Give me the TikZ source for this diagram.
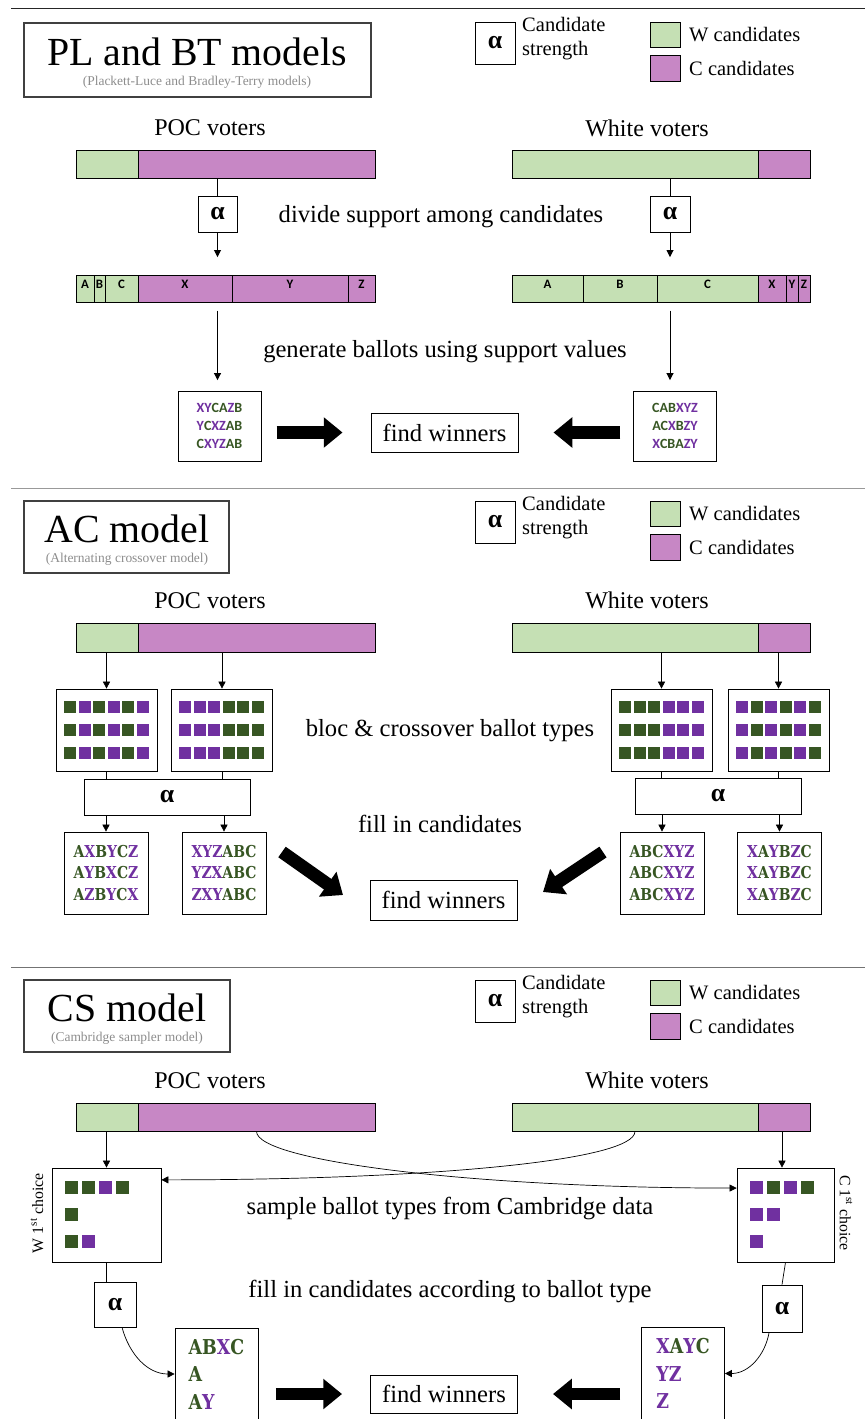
\documentclass[tikz,border=0pt]{standalone}
\usepackage{fontspec}
\setmainfont{Liberation Serif}
\newfontfamily\barfont{Carlito}
\newfontfamily\slabfont[FakeStretch=0.85]{DejaVu Serif}
\usepackage{xcolor}
\usetikzlibrary{arrows.meta,positioning,fit,calc}

\definecolor{wgreen}{HTML}{C5E0B4}
\definecolor{cpurple}{HTML}{C787C5}
\definecolor{sqg}{HTML}{375623}
\definecolor{sqp}{HTML}{7030A0}

\newcommand{\wc}[1]{\textcolor{sqg}{#1}}
\newcommand{\pc}[1]{\textcolor{sqp}{#1}}
% x0, y centre, pitch, size, colours
\newcommand{\sqrow}[5]{\foreach \c [count=\i from 0] in {#5} \fill[fill=\c] ({#1+\i*#3},{#2-#4/2}) rectangle ++(#4,#4);}

\begin{document}
\begin{tikzpicture}[
    x=0.03cm, y=-0.03cm,
    lbl/.style={font=\fontsize{20.5}{24}\selectfont},
    mid/.style={font=\fontsize{21}{25}\selectfont},
    legtext/.style={font=\fontsize{17.5}{20.5}\selectfont, align=left, anchor=west, inner sep=0pt},
    titlebox/.style={draw=black!75, line width=0.9pt},
    ttl/.style={font=\fontsize{34}{38}\selectfont, inner sep=0pt},
    subttl/.style={font=\fontsize{11.5}{13}\selectfont, text=black!45, inner sep=0pt},
    box/.style={draw, line width=0.6pt, fill=white, inner sep=0pt},
    seg/.style={draw, line width=0.6pt, inner sep=0pt, font=\barfont\bfseries\fontsize{11}{13}\selectfont},
    alph/.style={box, font=\bfseries\fontsize{22}{24}\selectfont},
    plb/.style={box, align=center, font=\barfont\bfseries\fontsize{12}{15.7}\selectfont, minimum width=2.49cm, minimum height=2.1cm},
    acb/.style={box, align=center, font=\slabfont\bfseries\fontsize{14}{18.7}\selectfont, minimum width=2.52cm, minimum height=2.46cm},
    csb/.style={box, align=left, font=\slabfont\bfseries\fontsize{17.5}{23.5}\selectfont, minimum width=2.49cm, minimum height=2.76cm},
    sqbox/.style={box, minimum width=3.03cm, minimum height=2.46cm},
    win/.style={box, mid, minimum width=4.41cm, minimum height=1.17cm},
    arr/.style={-{Triangle[length=6pt,width=6pt]}, line width=0.6pt},
    fat/.style={line width=11pt, -{Triangle[length=16pt,width=25pt]}}
]
\useasboundingbox (0,0) rectangle (865,1419);

% section rules
\draw[black!85, line width=0.8pt] (11,8) -- (865,8);
\draw[black!40, line width=0.8pt] (11,488) -- (865,488);
\draw[black!55, line width=0.8pt] (11,967) -- (865,967);

% legends
\foreach \oy/\k in {0/1,479/2,958/3}{
  \begin{scope}[shift={(0,\oy)}]
    \node[alph, minimum width=1.2cm, minimum height=1.26cm] (leg\k) at (495,43) {α};
    \node[legtext] (legt\k) at (522,39) {Candidate\\strength};
    \node[box, fill=wgreen, minimum width=0.9cm, minimum height=0.75cm] (legw\k) at (665,34.5) {};
    \node[box, fill=cpurple, minimum width=0.9cm, minimum height=0.78cm] (legc\k) at (665,68) {};
    \node[legtext] (legwt\k) at (689,35) {W candidates};
    \node[legtext] (legct\k) at (689,68) {C candidates};
  \end{scope}
}

%% PL and BT
\node[titlebox, minimum width=10.41cm, minimum height=2.22cm] (t1) at (197.5,60) {};
\node[ttl] (t1a) at (197,52) {PL and BT models};
\node[subttl] (t1b) at (197,82) {(Plackett-Luce and Bradley-Terry models)};

\node[lbl] (poc1) at (210,128) {POC voters};
\node[lbl] (wht1) at (647,128) {White voters};
\node[seg, fill=wgreen, fit={(76,150)(138,178)}] (pw1) {};
\node[seg, fill=cpurple, fit={(138,150)(375,178)}] (pc1) {};
\node[seg, fill=wgreen, fit={(512,150)(758,178)}] (ww1) {};
\node[seg, fill=cpurple, fit={(758,150)(810,178)}] (wc1) {};

\node[alph, minimum width=1.17cm, minimum height=1.08cm] (al1) at (217.5,214) {α};
\node[alph, minimum width=1.2cm, minimum height=1.08cm] (al2) at (670,214) {α};
\node[mid] (div) at (441,217) {divide support among candidates};

\node[seg, fill=wgreen, fit={(76,275)(94,302)}] (la) {A};
\node[seg, fill=wgreen, fit={(94,275)(105,302)}] (lb) {B};
\node[seg, fill=wgreen, fit={(105,275)(138,302)}] (lc) {C};
\node[seg, fill=cpurple, fit={(138,275)(232,302)}] (lx) {X};
\node[seg, fill=cpurple, fit={(232,275)(348,302)}] (ly) {Y};
\node[seg, fill=cpurple, fit={(348,275)(375,302)}] (lz) {Z};
\node[seg, fill=wgreen, fit={(512,275)(583,302)}] (ra) {A};
\node[seg, fill=wgreen, fit={(583,275)(657,302)}] (rb) {B};
\node[seg, fill=wgreen, fit={(657,275)(758,302)}] (rc) {C};
\node[seg, fill=cpurple, fit={(758,275)(786,302)}] (rx) {X};
\node[seg, fill=cpurple, fit={(786,275)(798,302)}] (ry) {Y};
\node[seg, fill=cpurple, fit={(798,275)(810,302)}] (rz) {Z};

\node[mid] (gen) at (445,352) {generate ballots using support values};
\node[plb] (bl1) at (219.5,426) {\pc{XY}\wc{CA}\pc{Z}\wc{B}\\\pc{Y}\wc{C}\pc{XZ}\wc{AB}\\\wc{C}\pc{XYZ}\wc{AB}};
\node[plb] (bl2) at (675,426) {\wc{CAB}\pc{XYZ}\\\wc{AC}\pc{X}\wc{B}\pc{ZY}\\\pc{X}\wc{CBA}\pc{ZY}};
\node[win] (fw1) at (444.5,432.5) {find winners};

\draw[line width=0.6pt] (al1 |- pc1.south) -- (al1.north);
\draw[line width=0.6pt] (al2 |- ww1.south) -- (al2.north);
\draw[arr, shorten >=15pt] (al1.south) -- (al1 |- lx.north);
\draw[arr, shorten >=15pt] (al2.south) -- (al2 |- rc.north);
\draw[arr, shorten <=7pt, shorten >=9pt] (al1 |- lx.south) -- (al1 |- bl1.north);
\draw[arr, shorten <=7pt, shorten >=9pt] (al2 |- rc.south) -- (al2 |- bl2.north);
\draw[fat, shorten <=13pt, shorten >=24pt] (bl1.east |- fw1.west) -- (fw1.west);
\draw[fat, shorten <=11pt, shorten >=30pt] (bl2.west |- fw1.east) -- (fw1.east);

%% AC model
\node[titlebox, minimum width=6.15cm, minimum height=2.16cm] (t2) at (126.5,537) {};
\node[ttl] (t2a) at (127,529) {AC model};
\node[subttl] (t2b) at (127,559) {(Alternating crossover model)};

\node[lbl] (poc2) at (210,601) {POC voters};
\node[lbl] (wht2) at (647,600) {White voters};
\node[seg, fill=wgreen, fit={(76,623)(138,652)}] (pw2) {};
\node[seg, fill=cpurple, fit={(138,623)(375,652)}] (pc2) {};
\node[seg, fill=wgreen, fit={(512,623)(758,652)}] (ww2) {};
\node[seg, fill=cpurple, fit={(758,623)(810,652)}] (wc2) {};

\node[sqbox] (sq1) at (106.5,730) {};
\node[sqbox] (sq2) at (222,730) {};
\node[sqbox] (sq3) at (661.5,730) {};
\node[sqbox] (sq4) at (778.5,730) {};
\foreach \yy in {707,730,753}{
  \sqrow{64}{\yy}{14.5}{12}{sqg,sqp,sqg,sqp,sqg,sqp}
  \sqrow{179}{\yy}{14.5}{12}{sqp,sqp,sqp,sqg,sqg,sqg}
  \sqrow{619}{\yy}{14.5}{12}{sqg,sqg,sqg,sqp,sqp,sqp}
  \sqrow{736}{\yy}{14.5}{12}{sqp,sqg,sqp,sqg,sqp,sqg}
}
\node[mid] (bloc) at (450,731) {bloc \& crossover ballot types};

\node[alph, minimum width=4.98cm, minimum height=1.08cm] (al5) at (167,797) {α};
\node[alph, minimum width=4.98cm, minimum height=1.08cm] (al6) at (718,796) {α};
\node[mid] (fill2) at (440,824) {fill in candidates};

\node[acb] (ac1) at (106,873) {\wc{A}\pc{X}\wc{B}\pc{Y}\wc{C}\pc{Z}\\\wc{A}\pc{Y}\wc{B}\pc{X}\wc{C}\pc{Z}\\\wc{A}\pc{Z}\wc{B}\pc{Y}\wc{C}\pc{X}};
\node[acb] (ac2) at (224,873) {\pc{XYZ}\wc{ABC}\\\pc{YZX}\wc{ABC}\\\pc{ZXY}\wc{ABC}};
\node[acb] (ac3) at (662,873) {\wc{ABC}\pc{XYZ}\\\wc{ABC}\pc{XYZ}\\\wc{ABC}\pc{XYZ}};
\node[acb] (ac4) at (779.5,873) {\pc{X}\wc{A}\pc{Y}\wc{B}\pc{Z}\wc{C}\\\pc{X}\wc{A}\pc{Y}\wc{B}\pc{Z}\wc{C}\\\pc{X}\wc{A}\pc{Y}\wc{B}\pc{Z}\wc{C}};
\node[win, minimum height=1.2cm] (fw2) at (443.5,900) {find winners};

\draw[arr] (sq1 |- pw2.south) -- (sq1.north);
\draw[arr] (sq2 |- pc2.south) -- (sq2.north);
\draw[arr] (sq3 |- ww2.south) -- (sq3.north);
\draw[arr] (sq4 |- wc2.south) -- (sq4.north);
\foreach \s/\a in {sq1/al5,sq2/al5,sq3/al6,sq4/al6}
  \draw[line width=0.6pt] (\s.south) -- (\s |- \a.north);
\foreach \b/\a in {ac1/al5,ac2/al5,ac3/al6,ac4/al6}
  \draw[arr] (\b |- \a.south) -- (\b.north);
\coordinate (d1a) at (282,852);
\coordinate (d1b) at (343,895);
\coordinate (d2a) at (603,852);
\coordinate (d2b) at (543,892);
\draw[fat] (d1a) -- (d1b);
\draw[fat] (d2a) -- (d2b);

%% CS model
\node[titlebox, minimum width=6.18cm, minimum height=2.16cm] (t3) at (127,1016) {};
\node[ttl] (t3a) at (127,1008) {CS model};
\node[subttl] (t3b) at (127,1038) {(Cambridge sampler model)};

\node[lbl] (poc3) at (210,1081) {POC voters};
\node[lbl] (wht3) at (647,1080) {White voters};
\node[seg, fill=wgreen, fit={(76,1103)(138,1131)}] (pw3) {};
\node[seg, fill=cpurple, fit={(138,1103)(375,1131)}] (pc3) {};
\node[seg, fill=wgreen, fit={(512,1103)(758,1131)}] (ww3) {};
\node[seg, fill=cpurple, fit={(758,1103)(810,1131)}] (wc3) {};

\node[box, minimum width=3.27cm, minimum height=2.82cm] (wb) at (106.5,1215) {};
\node[box, minimum width=2.91cm, minimum height=2.82cm] (cb) at (785.5,1215) {};
\sqrow{65}{1187}{17}{13}{sqg,sqg,sqp,sqg}
\sqrow{65}{1214}{17}{13}{sqg}
\sqrow{65}{1241}{17}{13}{sqg,sqp}
\sqrow{750}{1187}{17}{13}{sqp,sqg,sqp,sqg}
\sqrow{750}{1214}{17}{13}{sqp,sqp}
\sqrow{750}{1241}{17}{13}{sqp}
\node[rotate=90, font=\fontsize{13.5}{16}\selectfont] (wfirst) at (37,1213) {W 1\textsuperscript{st} choice};
\node[rotate=-90, font=\fontsize{13.5}{16}\selectfont] (cfirst) at (846,1213) {C 1\textsuperscript{st} choice};

\node[mid] (samp) at (450,1208) {sample ballot types from Cambridge data};
\node[mid] (fill3) at (450,1291) {fill in candidates according to ballot type};

\node[alph, minimum width=1.26cm, minimum height=1.35cm] (al3) at (115,1304.5) {α};
\node[alph, minimum width=1.2cm, minimum height=1.41cm] (al4) at (782,1308.5) {α};

\node[csb] (bl5) at (216.5,1374) {\wc{AB}\pc{X}\wc{C}\\\wc{A}\\\wc{A}\pc{Y}};
\node[csb] (bl6) at (683,1373.5) {\pc{X}\wc{A}\pc{Y}\wc{C}\\\pc{YZ}\\\pc{Z}};
\node[win, minimum height=1.14cm] (fw3) at (444,1394) {find winners};

\draw[arr] (wb |- pw3.south) -- (wb.north);
\draw[arr] (al4 |- wc3.south) -- (al4 |- cb.north);
\draw[arr] (pc3.south) .. controls +(0,30) and +(-260,0) .. ([yshift=23pt]cb.west);
\draw[arr] (ww3.south) .. controls +(0,30) and +(260,0) .. ([yshift=30pt]wb.east);
\draw[line width=0.6pt] (wb.south) -- (wb.south |- al3.north);
\draw[line width=0.6pt] (cb.south) -- (al4.north);
\draw[arr] ([xshift=6pt]al3.south) to[out=-75, in=180] (bl5.west);
\draw[arr] ([xshift=-11pt]al4.south) to[out=-100, in=0] (bl6.east);
\draw[fat, shorten <=15pt, shorten >=24pt] (bl5.east |- fw3.west) -- (fw3.west);
\draw[fat, shorten <=18pt, shorten >=30pt] (bl6.west |- fw3.east) -- (fw3.east);
\end{tikzpicture}
\end{document}
